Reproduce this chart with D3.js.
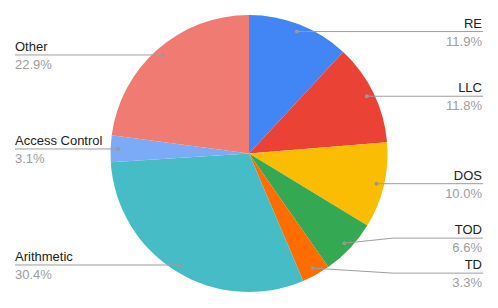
<!DOCTYPE html>
<html>
<head>
<meta charset="utf-8">
<script src="https://cdn.jsdelivr.net/npm/d3@7"></script>
<style>
  body { margin: 0; background: #fff; }
  svg { display: block; font-family: Arial, "Liberation Sans", sans-serif; }
</style>
</head>
<body>
<div class="chart"></div>
<script>
// chart data
var categories = ["RE", "LLC", "DOS", "TOD", "TD", "Arithmetic", "Access Control", "Other"];
var shares = [11.9, 11.8, 10.0, 6.6, 3.3, 30.4, 3.1, 22.9];
var colors = ["#4285f4", "#ea4335", "#fbbc04", "#34a853", "#ff6d01", "#46bdc6", "#7baaf7", "#f07b72"];

var svgWidth = 498;
var svgHeight = 308;

var cx = 249;
var cy = 153.5;
var radius = 138.5;
var dotRadius = 131;

var svg = d3.select(".chart")
  .append("svg")
  .attr("width", svgWidth)
  .attr("height", svgHeight);

var data = categories.map((c, i) => ({ name: c, value: shares[i], color: colors[i] }));
var total = d3.sum(shares);

var pie = d3.pie()
  .sort(null)
  .value(d => d.value);

var arc = d3.arc()
  .innerRadius(0)
  .outerRadius(radius);

var arcs = pie(data);

var chartGroup = svg.append("g")
  .attr("transform", `translate(${cx}, ${cy})`);

chartGroup.selectAll("path")
  .data(arcs)
  .enter()
  .append("path")
  .attr("d", arc)
  .attr("fill", d => d.data.color);

//__________________________________________________________________________________
// label positions: dot on the slice, line out to the side
var pct = d3.format(".1%");

arcs.forEach(function(d) {
  var mid = (d.startAngle + d.endAngle) / 2;
  d.dotX = cx + dotRadius * Math.sin(mid);
  d.dotY = cy - dotRadius * Math.cos(mid);
  d.side = Math.sin(mid) >= 0 ? "right" : "left";
  d.labelY = d.dotY;
});

// push apart labels that sit too close on the same side
var minGap = 35;
["right", "left"].forEach(function(side) {
  var group = arcs.filter(d => d.side === side).sort((a, b) => a.dotY - b.dotY);
  for (var k = 0; k < 10; k++) {
    for (var i = 1; i < group.length; i++) {
      var gap = group[i].labelY - group[i - 1].labelY;
      if (gap < minGap) {
        var shift = (minGap - gap) / 2;
        group[i - 1].labelY -= shift;
        group[i].labelY += shift;
      }
    }
  }
});

var labelGroup = svg.append("g");

arcs.forEach(function(d) {
  var right = d.side === "right";
  var endX = right ? 483 : 15;
  var elbowX = right ? 393 : 105;
  var pts = [[d.dotX, d.dotY]];
  if (Math.abs(d.labelY - d.dotY) > 0.5) pts.push([elbowX, d.labelY]);
  pts.push([endX, d.labelY]);

  labelGroup.append("path")
    .attr("d", d3.line()(pts))
    .attr("fill", "none")
    .attr("stroke", "#9e9e9e")
    .attr("stroke-width", 1);

  labelGroup.append("circle")
    .attr("cx", d.dotX)
    .attr("cy", d.dotY)
    .attr("r", 2)
    .attr("fill", "#999");

  var tx = right ? 482 : 15;
  var anchor = right ? "end" : "start";

  labelGroup.append("text")
    .attr("x", tx)
    .attr("y", d.labelY - 4)
    .attr("text-anchor", anchor)
    .attr("font-size", 13)
    .attr("fill", "#222")
    .text(d.data.name);

  labelGroup.append("text")
    .attr("x", tx)
    .attr("y", d.labelY + 14)
    .attr("text-anchor", anchor)
    .attr("font-size", 13)
    .attr("fill", "#9e9e9e")
    .text(pct(d.data.value / total));
});
</script>
</body>
</html>
